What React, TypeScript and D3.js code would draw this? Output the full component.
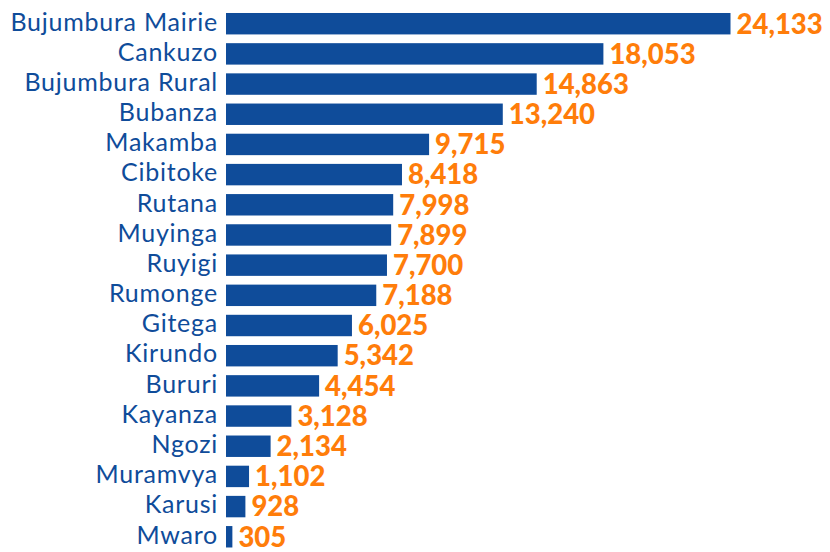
import React from "react";
import * as d3 from "d3";

const provinces = [
  "Bujumbura Mairie",
  "Cankuzo",
  "Bujumbura Rural",
  "Bubanza",
  "Makamba",
  "Cibitoke",
  "Rutana",
  "Muyinga",
  "Ruyigi",
  "Rumonge",
  "Gitega",
  "Kirundo",
  "Bururi",
  "Kayanza",
  "Ngozi",
  "Muramvya",
  "Karusi",
  "Mwaro",
];

const values = [
  24133, 18053, 14863, 13240, 9715, 8418, 7998, 7899, 7700, 7188, 6025, 5342,
  4454, 3128, 2134, 1102, 928, 305,
];

const W = 830;
const H = 552;
const BLUE = "#0F4C9A";
const ORANGE = "#FF7D0A";

export default function App() {
  const x = d3.scaleLinear().domain([0, 24133]).range([226, 730.5]);
  const y = d3
    .scaleBand<string>()
    .domain(provinces)
    .range([8.62, 8.62 + 18 * 30.18])
    .paddingInner(0.29)
    .paddingOuter(0.145);
  const fmt = d3.format(",");

  return (
    <svg
      width={W}
      height={H}
      style={{ position: "absolute", left: 0, top: 0, background: "#fff" }}
    >
      {provinces.map((p, i) => {
        const yc = (y(p) as number) + y.bandwidth() / 2;
        return (
          <g key={p}>
            <rect
              x={x(0)}
              y={y(p)}
              width={x(values[i]) - x(0)}
              height={y.bandwidth()}
              fill={BLUE}
            />
            <text
              x={218}
              y={yc + 6.8}
              textAnchor="end"
              fill={BLUE}
              fontFamily="Lato, sans-serif"
              fontSize={25}
              letterSpacing={0.75}
            >
              {p}
            </text>
            <text
              x={x(values[i]) + 6}
              y={yc + 9.8}
              textAnchor="start"
              fill={ORANGE}
              fontFamily="Lato, sans-serif"
              fontWeight={900}
              fontSize={27.5}
            >
              {fmt(values[i])}
            </text>
          </g>
        );
      })}
    </svg>
  );
}
